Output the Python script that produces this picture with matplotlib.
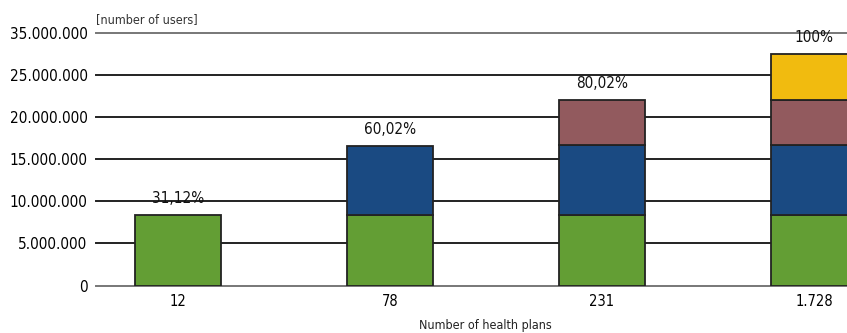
import numpy as np
import matplotlib.pyplot as plt

plt.rcParams['font.family'] = ['DejaVu Sans']
plt.rcParams['font.stretch'] = 'condensed'

plans = ['12', '78', '231', '1.728']
green = [8.35e6, 8.35e6, 8.35e6, 8.35e6]
blue = [0, 8.2e6, 8.32e6, 8.32e6]
red = [0, 0, 5.39e6, 5.39e6]
yellow = [0, 0, 0, 5.47e6]
shares = ['31,12%', '60,02%', '80,02%', '100%']
yticks = [0, 5e6, 10e6, 15e6, 20e6, 25e6, 30e6]
ytick_labels = ['0', '5.000.000', '10.000.000', '15.000.000', '20.000.000', '25.000.000', '35.000.000']

colors = ['#639e34', '#1a4a82', '#925a5e', '#f1bb0f']

fig = plt.figure(figsize=(8.47, 3.33), dpi=100)
ax = fig.add_axes([96 / 847, 47.5 / 333, 751 / 847, 252.3 / 333])

x = np.arange(len(plans))
bottom = np.zeros(len(plans))
for vals, c in zip([green, blue, red, yellow], colors):
    vals = np.array(vals, dtype=float)
    mask = vals > 0
    ax.bar(x[mask], vals[mask], bottom=bottom[mask], width=0.405, color=c,
           edgecolor='#222222', linewidth=1.3, zorder=3)
    bottom += vals

for xi, tot, s in zip(x, bottom, shares):
    ax.text(xi, tot + 1.1e6, s, ha='center', va='bottom', fontsize=11, color='#111111')

ax.set_xlim(-0.387, 3.156)
ax.set_ylim(0, 30e6)
ax.set_yticks(yticks)
ax.set_yticklabels(ytick_labels, fontsize=11)
ax.set_xticks(x)
ax.set_xticklabels(plans, fontsize=10.5)
ax.tick_params(length=0, pad=6)
ax.tick_params(axis='x', pad=6)
ax.grid(axis='y', color='#222222', linewidth=1.4, zorder=0)
ax.set_axisbelow(True)
gl = ax.get_ygridlines()
for line in gl:
    line.set_clip_on(False)
gl[0].set_color('#777777')
gl[-1].set_color('#777777')
for sp in ax.spines.values():
    sp.set_visible(False)

ax.text(0.0, 1.03, '[number of users]', transform=ax.transAxes, fontsize=9,
        ha='left', va='bottom', color='#333333')
fig.text(485 / 847, 8 / 333, 'Number of health plans', ha='center', va='center',
         fontsize=9, color='#222222')

fig.savefig('out.png', dpi=100)
